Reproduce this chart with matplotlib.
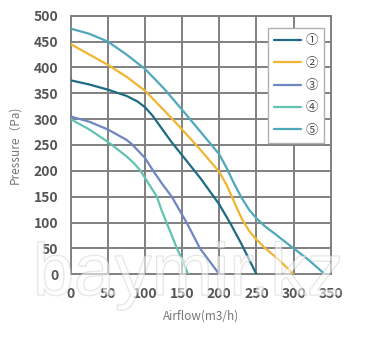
import matplotlib.pyplot as plt
import matplotlib.patheffects as pe

plt.rcParams['font.family'] = ['Noto Sans CJK SC', 'DejaVu Sans']

# fan curves, airflow (m3/h) vs pressure (Pa)
x1 = [0, 25, 50, 75, 90, 100, 110, 120, 135, 150, 175, 200, 215, 230, 250]
y1 = [375, 367, 357, 345, 334, 323, 307, 287, 257, 230, 185, 135, 98, 58, 0]

x2 = [0, 25, 50, 75, 100, 125, 150, 175, 200, 210, 220, 230, 240, 250, 262, 280, 300]
y2 = [445, 425, 405, 382, 355, 318, 280, 240, 198, 172, 140, 108, 84, 67, 50, 28, 0]

x3 = [0, 25, 50, 60, 75, 82, 90, 100, 111, 123, 136, 156, 174, 200]
y3 = [305, 295, 280, 272, 260, 252, 240, 225, 200, 175, 150, 100, 50, 0]

x4 = [0, 25, 50, 60, 75, 85, 94, 105, 116, 122, 129, 136, 143, 150, 158]
y4 = [300, 280, 256, 245, 228, 215, 200, 175, 150, 125, 100, 75, 50, 28, 0]

x5 = [0, 25, 50, 75, 100, 125, 150, 175, 200, 210, 220, 230, 240, 250, 262, 275, 300, 320, 342]
y5 = [475, 465, 450, 425, 397, 360, 318, 275, 232, 205, 175, 148, 125, 108, 92, 78, 50, 28, 0]

names = ['①', '②', '③', '④', '⑤']
colors = ['#1e6b84', '#f2b531', '#6f86c2', '#62c3b2', '#4fa8bb']

fig = plt.figure(figsize=(3.75, 3.39), dpi=100)
ax = fig.add_axes([0.1885, 0.191, 0.6935, 0.7627])

for xs, ys, n, c in zip([x1, x2, x3, x4, x5], [y1, y2, y3, y4, y5], names, colors):
    ax.plot(xs, ys, color=c, lw=1.6, label=n, solid_capstyle='round',
            solid_joinstyle='round', zorder=3)

ax.set_xlim(0, 350)
ax.set_ylim(0, 500)
ax.set_xticks(range(0, 351, 50))
ax.set_yticks(range(0, 501, 50))
ax.grid(True, color='#808080', lw=1.4)
ax.set_axisbelow(True)
for s in ax.spines.values():
    s.set_color('#808080')
    s.set_linewidth(1.4)
ax.tick_params(length=0, pad=9, labelsize=10, labelcolor='#555555')
for lab in ax.get_xticklabels() + ax.get_yticklabels():
    lab.set_fontweight('bold')

ax.set_xlabel('Airflow(m3/h)', fontsize=8.5, color='#777777', labelpad=6)
ax.set_ylabel('Pressure（Pa)', fontsize=8.5, color='#777777', labelpad=9)

leg = ax.legend(loc='upper right', bbox_to_anchor=(0.974, 0.952), borderaxespad=0,
                fontsize=9, handlelength=2.2, labelspacing=0.75, fancybox=False,
                framealpha=1, edgecolor='#b0b0b0', handletextpad=0.3,
                borderpad=0.5)
leg.get_frame().set_linewidth(1.0)
for t in leg.get_texts():
    t.set_color('#444444')

# watermark
fig.text(0.503, 0.13, 'baymir.kz', fontsize=53, family='Liberation Sans',
         color='white', alpha=0.35, ha='center', va='baseline', zorder=10,
         path_effects=[pe.withStroke(linewidth=1.0, foreground='#b0b0b0')])

fig.savefig('out.png', dpi=100)
